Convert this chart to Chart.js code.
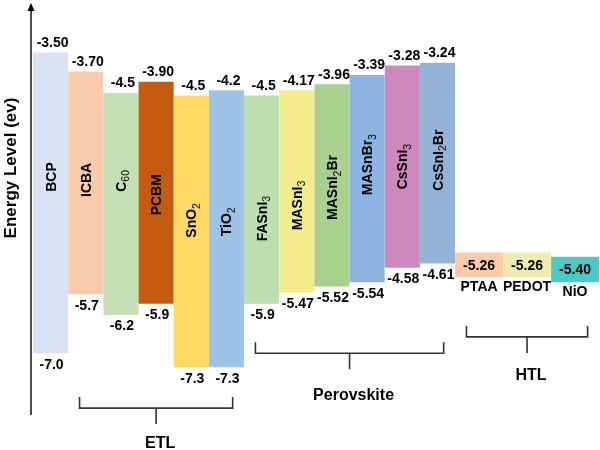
<!DOCTYPE html>
<html>
<head>
<meta charset="utf-8">
<script src="https://cdn.jsdelivr.net/npm/chart.js@4.4.1/dist/chart.umd.min.js"></script>
<style>
  html, body { margin: 0; padding: 0; background: #fff; }
  #wrap { width: 600px; height: 450px; }
</style>
</head>
<body>
<div id="wrap"><canvas id="levels" width="600" height="450"></canvas></div>
<script>
// materials, left to right
const materials = ['BCP', 'ICBA', 'C60', 'PCBM', 'SnO2', 'TiO2', 'FASnI3', 'MASnI3',
                   'MASnI2Br', 'MASnBr3', 'CsSnI3', 'CsSnI2Br', 'PTAA', 'PEDOT', 'NiO'];

// printed energy levels (eV)
const upperLevel = ['-3.50', '-3.70', '-4.5', '-3.90', '-4.5', '-4.2', '-4.5', '-4.17',
                    '-3.96', '-3.39', '-3.28', '-3.24', '-5.26', '-5.26', '-5.40'];
const lowerLevel = ['-7.0', '-5.7', '-6.2', '-5.9', '-7.3', '-7.3', '-5.9', '-5.47',
                    '-5.52', '-5.54', '-4.58', '-4.61', null, null, null];

// bar extents as drawn (the diagram is schematic)
const barTop = [-3.50, -3.72, -3.97, -3.84, -4.00, -3.94, -4.00, -3.94,
                -3.87, -3.76, -3.65, -3.62, -5.83, -5.83, -5.88];
const barBottom = [-7.00, -6.31, -6.55, -6.42, -7.16, -7.16, -6.42, -6.29,
                   -6.22, -6.17, -6.00, -5.95, -6.11, -6.11, -6.17];

// layer groups
const groupNames = ['ETL', 'Perovskite', 'HTL'];
const groupFirst = ['ICBA', 'FASnI3', 'PTAA'];
const groupLast = ['TiO2', 'CsSnI2Br', 'NiO'];

const barColors = ['#dae3f3', '#f8cbad', '#c5e0b4', '#c55a11', '#ffd966', '#9dc3e6', '#bddfb0', '#f3eb8c',
                   '#a9d18e', '#8eb4e3', '#cd89bb', '#95b3d7', '#f8cbad', '#eeeab0', '#4bc8c8'];

const FONT = 'Arial, "Liberation Sans", Helvetica, sans-serif';
const HTL_RATIO = 1.364; // HTL boxes are wider than the others
const htlStart = materials.indexOf(groupFirst[2]);
const xPos = materials.map((m, i) => i < htlStart ? i : htlStart - 0.5 + HTL_RATIO * (i - htlStart + 0.5));
const xMax = htlStart - 0.5 + HTL_RATIO * (materials.length - htlStart);

// draw a formula, digits as subscripts, centred on (cx, cy)
function drawFormula(ctx, text, cx, cy, size) {
    const parts = text.match(/\d+|\D+/g);
    const sub = size * 0.75;
    const fontOf = p => /\d/.test(p) ? `${sub}px ${FONT}` : `bold ${size}px ${FONT}`;
    const widths = parts.map(p => { ctx.font = fontOf(p); return ctx.measureText(p).width; });
    let x = cx - widths.reduce((a, b) => a + b, 0) / 2;
    const base = cy + size * 0.36;
    ctx.textAlign = 'left';
    ctx.textBaseline = 'alphabetic';
    parts.forEach((p, k) => {
        ctx.font = fontOf(p);
        ctx.fillText(p, x, /\d/.test(p) ? base + size * 0.25 : base);
        x += widths[k];
    });
}

const decorations = {
    id: 'decorations',
    afterDatasetsDraw(chart, args, opts) {
        const { ctx, scales: { y } } = chart;
        const bars = [];
        chart.data.datasets.forEach((ds, d) => {
            chart.getDatasetMeta(d).data.forEach((el, k) => bars[ds.firstIndex + k] = el);
        });
        ctx.save();
        ctx.fillStyle = '#000';

        bars.forEach((el, i) => {
            const top = Math.min(el.y, el.base), bottom = Math.max(el.y, el.base);
            ctx.font = `bold 14px ${FONT}`;
            ctx.textAlign = 'center';
            if (i >= htlStart) {
                ctx.textBaseline = 'middle';
                ctx.fillText(upperLevel[i], el.x, (top + bottom) / 2 + 1);
                ctx.textBaseline = 'top';
                ctx.fillText(materials[i], el.x, bottom + 3);
                return;
            }
            ctx.textBaseline = 'bottom';
            ctx.fillText(upperLevel[i], el.x + 2, top - 3);
            ctx.textBaseline = 'top';
            ctx.fillText(lowerLevel[i], el.x + 1, bottom + 5);
            ctx.save();
            ctx.translate(el.x, (top + bottom) / 2 + (opts.nameShift[i] || 0));
            ctx.rotate(-Math.PI / 2);
            drawFormula(ctx, materials[i], 0, 0, 14);
            ctx.restore();
        });

        // group brackets
        ctx.strokeStyle = '#333';
        ctx.lineWidth = 1.6;
        groupNames.forEach((name, g) => {
            const a = bars[materials.indexOf(groupFirst[g])];
            const b = bars[materials.indexOf(groupLast[g])];
            const x1 = a.x - a.width / 2 + opts.inset, x2 = b.x + b.width / 2 - opts.inset;
            const yy = y.getPixelForValue(opts.level[g]);
            const mid = (x1 + x2) / 2;
            ctx.beginPath();
            ctx.moveTo(x1, yy - 11); ctx.lineTo(x1, yy); ctx.lineTo(x2, yy); ctx.lineTo(x2, yy - 11);
            ctx.moveTo(mid, yy); ctx.lineTo(mid, yy + 16);
            ctx.stroke();
            ctx.font = `bold 16px ${FONT}`;
            ctx.textAlign = 'center';
            ctx.textBaseline = 'middle';
            ctx.fillText(name, mid + 4, yy + opts.textGap[g]);
        });

        // energy axis with arrow
        const ax = chart.chartArea.left - 2;
        ctx.strokeStyle = '#000';
        ctx.lineWidth = 1.4;
        ctx.beginPath();
        ctx.moveTo(ax, 415); ctx.lineTo(ax, 9);
        ctx.stroke();
        ctx.beginPath();
        ctx.moveTo(ax, 3); ctx.lineTo(ax - 3.5, 11); ctx.lineTo(ax + 3.5, 11);
        ctx.closePath();
        ctx.fill();

        ctx.save();
        ctx.translate(11, 168);
        ctx.rotate(-Math.PI / 2);
        ctx.font = `bold 17px ${FONT}`;
        ctx.textAlign = 'center';
        ctx.textBaseline = 'middle';
        ctx.fillText('Energy Level (ev)', 0, 0);
        ctx.restore();

        ctx.restore();
    }
};

function makeDataset(from, to, thickness) {
    return {
        firstIndex: from,
        data: materials.slice(from, to).map((m, k) => ({ x: xPos[from + k], y: [barBottom[from + k], barTop[from + k]] })),
        backgroundColor: barColors.slice(from, to),
        borderWidth: 0,
        barThickness: thickness,
        grouped: false
    };
}

new Chart(document.getElementById('levels'), {
    type: 'bar',
    data: {
        datasets: [
            makeDataset(0, htlStart, 34.4),
            makeDataset(htlStart, materials.length, 47.2)
        ]
    },
    options: {
        responsive: false,
        animation: false,
        layout: { padding: { left: 33, right: 1, top: 10, bottom: 11 } },
        scales: {
            x: { type: 'linear', min: -0.5, max: xMax, offset: false, display: false },
            y: { min: -8, max: -3, display: false }
        },
        plugins: {
            legend: { display: false },
            tooltip: { enabled: false },
            decorations: {
                inset: 11,
                level: [-7.64, -7.0, -6.81],
                textGap: [35, 42, 39],
                nameShift: [-26, -3, -23, 2, -11, -7, 19, 14, 2, -14, 0, -3]
            }
        }
    },
    plugins: [decorations]
});
</script>
</body>
</html>
